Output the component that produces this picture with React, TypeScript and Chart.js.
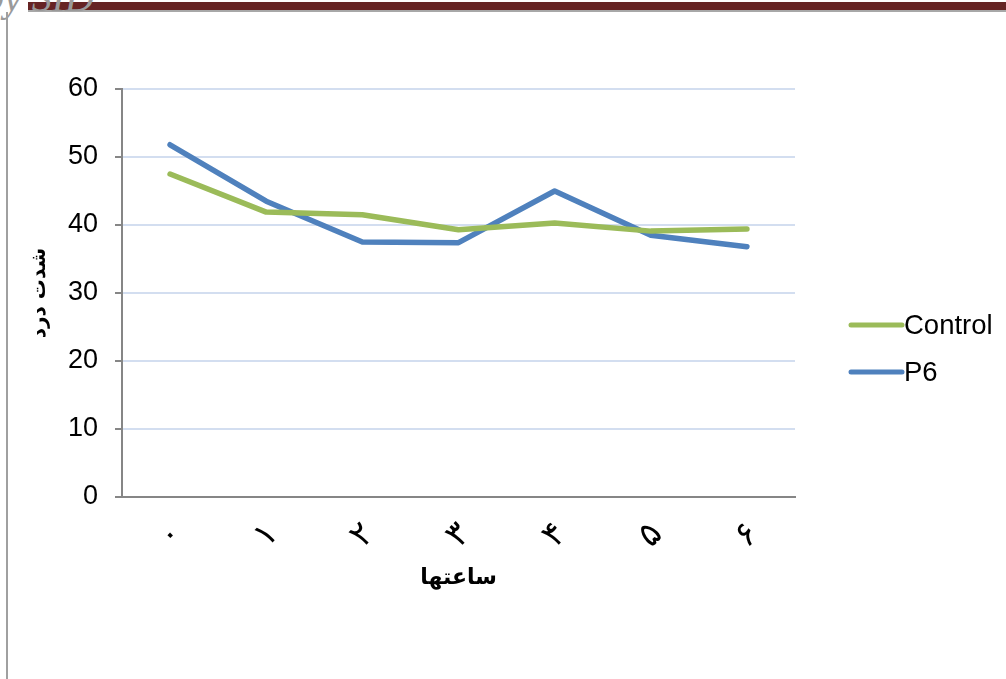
import React, { useEffect, useRef } from "react";
import { Chart, registerables } from "chart.js";

Chart.register(...registerables);

const categories = ["۰", "۱", "۲", "۳", "۴", "۵", "۶"];
const controlValues = [47.5, 41.9, 41.5, 39.3, 40.3, 39.1, 39.4];
const p6Values = [51.8, 43.5, 37.5, 37.4, 45.0, 38.5, 36.8];
const seriesNames = ["Control", "P6"];
const seriesColors = ["#9bbb59", "#4f81bd"];
const yTitle = "شدت درد";
const xTitle = "ساعتها";

const legendPlugin = {
  id: "customLegend",
  afterDraw(chart: any) {
    const ctx = chart.ctx;
    const ds = chart.data.datasets;
    ctx.save();
    ds.forEach((d: any, i: number) => {
      const y = 325 + i * 47;
      ctx.strokeStyle = d.borderColor;
      ctx.lineWidth = 5;
      ctx.lineCap = "round";
      ctx.beginPath();
      ctx.moveTo(851, y);
      ctx.lineTo(902, y);
      ctx.stroke();
      ctx.fillStyle = "#000";
      ctx.font = "27.5px 'Liberation Sans', Arial, sans-serif";
      ctx.textBaseline = "middle";
      ctx.textAlign = "left";
      ctx.fillText(d.label, 904, y + 1);
    });
    ctx.restore();
  },
};

export default function App() {
  const ref = useRef<HTMLCanvasElement | null>(null);
  useEffect(() => {
    if (!ref.current) return;
    const chart = new Chart(ref.current, {
      type: "line",
      data: {
        labels: categories,
        datasets: [
          {
            label: seriesNames[0],
            data: controlValues,
            borderColor: seriesColors[0],
            backgroundColor: seriesColors[0],
            borderWidth: 5.5,
            pointRadius: 0,
            tension: 0,
            borderCapStyle: "round",
            borderJoinStyle: "round",
          },
          {
            label: seriesNames[1],
            data: p6Values,
            borderColor: seriesColors[1],
            backgroundColor: seriesColors[1],
            borderWidth: 5.5,
            pointRadius: 0,
            tension: 0,
            borderCapStyle: "round",
            borderJoinStyle: "round",
          },
        ],
      },
      options: {
        animation: false,
        responsive: false,
        layout: { padding: { left: 0, right: 211, top: 89, bottom: 0 } },
        plugins: {
          legend: { display: false },
          tooltip: { enabled: false },
        },
        scales: {
          x: {
            type: "category",
            offset: true,
            grid: { display: false, drawTicks: false },
            border: { display: true, color: "#868686", width: 2 },
            ticks: {
              color: "#000",
              font: { family: "'DejaVu Sans', sans-serif", size: 34 },
              minRotation: 45,
              maxRotation: 45,
              padding: 18,
              labelOffset: 7,
            },
            title: {
              display: true,
              text: xTitle,
              color: "#000",
              font: { family: "'DejaVu Sans', sans-serif", size: 22, weight: "bold" },
              padding: { top: 0, bottom: 88 },
            },
            afterFit: (s: any) => {
              s.height = 182;
            },
          },
          y: {
            min: 0,
            max: 60,
            ticks: {
              stepSize: 10,
              color: "#000",
              font: { family: "'Liberation Sans', Arial, sans-serif", size: 27 },
              padding: 17,
            },
            grid: {
              color: (c: any) => (c.tick && c.tick.value === 0 ? "rgba(0,0,0,0)" : "#d3def0"),
              lineWidth: 2,
              drawTicks: true,
              tickLength: 7,
              tickColor: "#868686",
              tickWidth: 2,
            },
            border: { display: true, color: "#868686", width: 2 },
            title: {
              display: true,
              text: yTitle,
              color: "#000",
              font: { family: "'DejaVu Sans', sans-serif", size: 20, weight: "bold" },
              padding: { top: 28, bottom: 0 },
            },
            afterFit: (s: any) => {
              s.width = 122;
            },
          },
        },
      },
      plugins: [legendPlugin],
    } as any);
    return () => chart.destroy();
  }, []);

  return (
    <div style={{ position: "fixed", left: 0, top: 0, width: 1006, height: 679, background: "#fff", overflow: "hidden" }}>
      <div style={{ position: "absolute", left: 28, top: 2, width: 978, height: 8, background: "#662424" }} />
      <div style={{ position: "absolute", left: 28, top: 10, width: 978, height: 2, background: "#a8a8a8" }} />
      <div
        style={{
          position: "absolute",
          left: -16,
          top: -26,
          fontFamily: "'Liberation Serif', serif",
          fontStyle: "italic",
          fontSize: 40,
          color: "#9a9a9a",
          lineHeight: "48px",
          whiteSpace: "nowrap",
        }}
      >
        by SID
      </div>
      <div style={{ position: "absolute", left: 6, top: 12, width: 2, height: 667, background: "#a0a0a0" }} />
      <canvas ref={ref} width={1006} height={679} style={{ position: "absolute", left: 0, top: 0 }} />
    </div>
  );
}
